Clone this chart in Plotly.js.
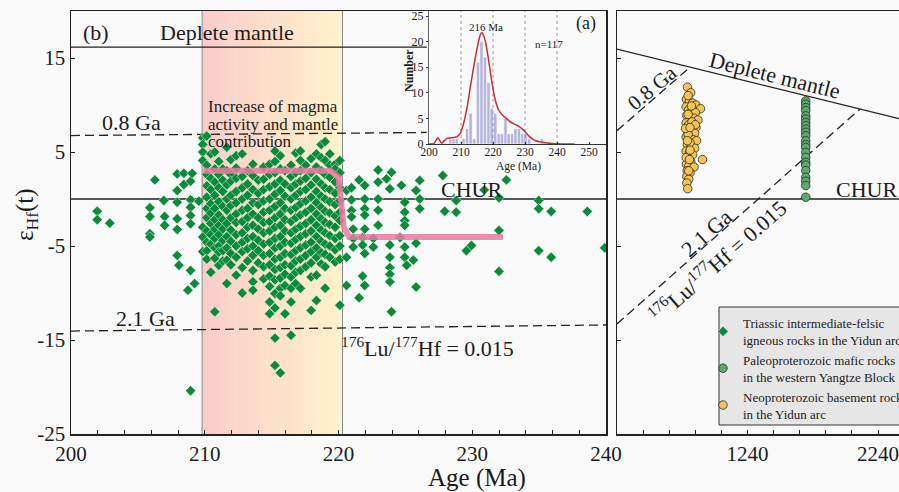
<!DOCTYPE html>
<html><head><meta charset="utf-8">
<script src="https://cdn.plot.ly/plotly-3.0.1.min.js"></script>
<style>html,body{margin:0;padding:0;background:#fafafa}</style>
</head><body><div id="chart" style="width:899px;height:492px"></div>
<script>
// ---------------- DATA ----------------
// Triassic zircon eHf(t) vs age, grouped by sample age column
const preBandAges = [201.96, 202.9, 205.9, 206.27, 206.94, 207.0, 207.94, 208.07, 208.44, 208.74, 208.94, 209.06, 209.24, 209.56, 209.85];
const preBandVals = [[-1.3,-2.2],[-2.57],[-0.93,-1.86,-3.7,-4.05],[2.03],[-0.16],[-1.86,-2.8],
  [2.67,0.9,-0.34,-2.1,-3.24,-6.0],[-7.05],[2.73,1.54],[-9.7],[1.89,-0.09,-0.87,-1.75,-2.64,-7.6,-20.4],
  [2.73],[-9.0],[-0.23],[6.5,5.8,5.0,4.1,-3.0,-4.05,-5.6]];
const bandAges = [210.15,210.45,210.75,211.05,211.35,211.65,211.95,212.35,212.8,213.2,213.6,214.0,214.4,214.85,215.25,215.65,216.0,216.45,216.8,217.15,217.55,217.95,218.35,218.7,219.0,219.35,219.75,220.1];
const bandVals = [
  [6.7,3.6,2.6,1.4,0.2,-1.0,-2.0,-3.4,-4.6,-5.5,-6.4],
  [4.8,2.2,1.0,-0.5,-1.5,-2.6,-3.8,-4.8,-7.8],
  [5.0,3.2,1.8,0.4,-1.0,-2.2,-3.2,-4.2,-5.2,-6.3,-12.0],
  [4.0,2.6,1.2,-0.3,-1.7,-2.8,-3.8,-5.0,-5.65,-7.05],
  [3.2,2.0,0.8,-0.8,-2.2,-3.2,-4.4,-5.5,-6.6],
  [5.5,3.0,1.5,0.0,-1.2,-2.6,-4.0,-5.2,-6.5,-9.0],
  [4.2,2.6,1.9,0.4,-0.7,-2.0,-3.3,-4.5,-5.8,-7.0],
  [4.6,3.3,2.2,0.8,-0.4,-1.6,-2.5,-3.8,-5.0,-6.2,-8.1],
  [4.8,2.4,1.2,0.0,-1.2,-2.4,-3.6,-4.6,-5.6,-7.3,-10.0],
  [3.0,1.6,0.4,-1.0,-2.0,-3.0,-4.2,-5.3,-6.6],
  [3.7,2.5,1.0,-0.4,-1.6,-2.8,-4.0,-5.0,-6.0,-7.6,-8.8,-9.7],
  [2.0,0.6,-0.6,-2.0,-3.2,-4.4,-5.5,-6.8],
  [3.4,2.1,1.0,-0.2,-1.4,-2.5,-3.6,-4.8,-6.0,-7.2,-8.5],
  [3.7,2.6,1.3,0.0,-1.2,-2.4,-3.4,-4.6,-5.8,-7.0,-8.2,-9.3,-10.95,-12.2],
  [5.1,4.0,2.8,1.6,0.5,-0.8,-2.0,-3.0,-4.2,-5.2,-6.4,-7.5,-8.6,-10.06,-11.6,-14.8,-17.7],
  [4.6,3.2,2.0,0.9,-0.4,-1.6,-2.8,-4.0,-5.0,-6.2,-7.3,-8.4,-9.5,-10.3,-18.5],
  [3.0,1.6,0.3,-1.0,-2.2,-3.4,-4.6,-5.8,-7.0,-8.0,-9.2,-12.2],
  [3.6,2.4,1.2,0.0,-1.2,-2.4,-3.6,-4.7,-5.9,-7.1,-8.3,-9.5,-10.95,-14.5],
  [4.9,2.8,1.6,0.4,-0.9,-2.0,-3.2,-4.3,-5.5,-6.6,-7.8,-9.0],
  [5.1,4.1,3.0,1.9,0.8,-0.5,-1.7,-2.9,-4.0,-5.2,-6.4,-7.6,-9.5],
  [3.6,2.2,1.0,-0.2,-1.4,-2.6,-3.7,-4.9,-6.0,-7.2],
  [4.3,2.8,1.5,0.2,-1.0,-2.2,-3.4,-4.6,-5.6,-6.8,-8.3,-11.85],
  [4.8,3.4,2.1,0.8,-0.4,-1.6,-2.8,-4.0,-5.2,-6.2,-8.1,-10.8],
  [5.8,4.4,3.0,1.6,0.3,-0.9,-2.1,-3.3,-4.5,-5.7,-6.9],
  [6.1,4.1,2.6,1.2,0.0,-1.3,-2.5,-3.6,-4.8,-5.9,-7.2,-9.5],
  [4.8,3.6,2.3,1.0,-0.3,-1.5,-2.7,-3.9,-5.0,-6.2],
  [3.7,3.2,1.8,0.6,-0.6,-1.8,-3.0,-4.2,-5.4,-6.7],
  [4.1,2.8,1.2,-0.2,-1.4,-2.3,-3.9,-5.0,-6.4,-11.3]];
const postBandAges = [220.6,220.97,221.1,221.54,221.8,221.96,222.6,222.96,223.59,223.84,223.96,224.6,224.7,224.95,225.1,225.6,225.8,226.07,227.8,227.94,228.8,229.56,229.94,230.9,232.0,232.55,234.97,235.9,238.6,239.9];
const postBandVals = [[0.9,-6.2,-9.2],[1.19,-0.09,-1.22,-1.9],[-3.2,-4.2,-5.1],[2.03,-10.5],[-4.1,-4.9,-8.2],
  [1.45,0.0,-1.04,-1.7,-3.2,-5.8,-9.2],[-4.2,-5.1],[3.09,1.8,0.0,-1.2,-2.8],[2.14],[1.09,-4.9,-6.2,-7.3,-8.0,-8.8],
  [2.84,-12.0],[-4.1],[1.45],[-0.34,-1.4,-2.3,-2.8,-5.1,-6.2],[-7.05],[-6.5],[0.9,-4.7,-9.36],[1.98,0.0,-1.04],
  [2.5],[-1.3],[-0.16,-1.4],[-5.5],[-4.94],[0.97],[0.12,-3.35,-7.7],[2.03],[-0.16,-1.04,-5.5],[-1.33,-6.2],[-1.33],[-5.2]];

// Mean eHf trend (pink)
const trendAges = [209.9, 219.4, 220.0, 220.4, 220.8, 232.3];
const trendEHf  = [3.0, 3.0, 2.3, -3.0, -4.05, -4.05];

// Reference evolution lines, left panel (age window 200-240 Ma)
const dmLeftAges = [200, 226.6];   const dmLeftEHf = [16.15, 16.15];
const ga08LeftAges = [200, 226.6]; const ga08LeftEHf = [6.75, 7.08];
const ga21LeftAges = [200, 240];   const ga21LeftEHf = [-14.05, -13.4];
const churLeftAges = [200, 240];   const churLeftEHf = [0, 0];

// Right panel (240-2400 Ma)
const dmRightAges = [240, 2400];   const dmRightEHf = [15.95, 8.55];
const ga08RightAges = [240, 800];  const ga08RightEHf = [7.26, 14.03];
const ga21RightAges = [240, 2100]; const ga21RightEHf = [-13.3, 9.56];
const churRightAges = [240, 2400]; const churRightEHf = [0, 0];

const neoPoints = [[780,11.9],[805,11.3],[772,10.6],[795,10.4],[820,10.2],[845,10.0],[880,9.6],[770,9.8],[790,9.5],[815,9.4],
  [840,9.2],[775,8.9],[800,8.7],[830,8.6],[860,8.4],[770,8.1],[790,7.9],[815,7.8],[845,7.6],[778,7.3],[805,7.1],[835,7.0],
  [770,6.6],[795,6.5],[825,6.3],[850,6.2],[780,5.8],[810,5.6],[835,5.4],[770,5.1],[795,4.9],[820,4.7],[780,4.4],[895,4.2],
  [805,4.0],[772,3.7],[790,3.5],[830,3.4],[778,3.0],[800,2.8],[775,2.4],[790,2.1],[775,1.7],[782,1.1],[810,9.9],[785,9.0],
  [800,6.0],[785,6.9],[815,8.2],[790,3.0],[770,4.4],[800,5.2],[840,7.9],[765,7.5],[785,11.0],[800,7.6],[780,6.2],[795,4.2]];
const paleoAges = [1686,1686,1686,1686,1686,1686,1686,1686,1686,1686,1686,1686,1686,1686,1686,1686,1686,1686,1686,1686,1686,1686,1686];
const paleoEHf  = [10.44,10.09,9.73,9.4,8.85,8.5,8.14,7.8,7.44,7.1,6.73,6.2,5.8,5.49,4.96,4.43,3.9,3.6,3.02,2.31,1.9,1.43,0.19];

// Inset (a): age histogram and density curve
const histAges   = [206.7,207.7,208.7,210.8,211.9,213.0,214.1,215.3,216.4,217.5,218.6,219.6,220.7,221.8,222.8,223.9,224.9,226.0,227.0,228.1,229.2,230.2,231.3,235.3];
const histCounts = [1,1,1,1,3,6,1,16,20,17,12,7,6,2,2,5,2,2,3,3,2,2,1,1];
const kdeAges = [200,201.5,202.8,203.9,205.5,207,208.6,209.7,210,211,212,213,214,215,216,216.5,217,217.6,218.6,219.7,220.7,221.8,223,224.5,225.5,227,228.2,229.2,230.3,231.3,232.3,233.5,235,237,240,245.5];
const kdeCounts = [0,0.05,1.2,0.2,1.05,1.2,1.4,2.0,2.4,4.5,7.5,11.5,15.2,18.6,21.3,21.8,21.3,20.1,16.5,11.9,8.6,6.6,5.6,4.8,4.3,3.8,3.4,2.9,2.2,1.5,1.0,0.6,0.4,0.2,0.05,0];
const insetGridAges = [210, 220, 230, 240];

// ---------------- BUILD ----------------
const SERIF = "Liberation Serif, Times New Roman, DejaVu Serif, serif";
const INK = '#1c1c1c';
function flatten(ages, vals){ const x=[],y=[]; ages.forEach((a,i)=>vals[i].forEach(v=>{x.push(a);y.push(v);})); return [x,y]; }
const [preX,preY] = flatten(preBandAges, preBandVals);
const [bandX,bandY] = flatten(bandAges, bandVals);
const [postX,postY] = flatten(postBandAges, postBandVals);
const triX = preX.concat(bandX, postX), triY = preY.concat(bandY, postY);

const gx=[], gy=[];
insetGridAges.forEach(a=>{gx.push(a,a,null); gy.push(0,26,null);});

const L=71, W=828, B=434, H=423;
const px = p => (p-L)/W, py = p => (B-p)/H;
const DASH = '9px,5px';

function line(x,y,xa,ya,dash){ return {x,y,xaxis:xa,yaxis:ya,mode:'lines',type:'scatter',showlegend:false,hoverinfo:'skip',
  line:{color:'#222',width:1.3,dash:dash||'solid'}}; }

const traces = [
  line(dmLeftAges, dmLeftEHf,'x','y'),
  line(ga08LeftAges, ga08LeftEHf,'x','y',DASH),
  line(churLeftAges, churLeftEHf,'x','y'),
  line(ga21LeftAges, ga21LeftEHf,'x','y',DASH),
  line(dmRightAges, dmRightEHf,'x2','y2'),
  line(ga08RightAges, ga08RightEHf,'x2','y2',DASH),
  line(ga21RightAges, ga21RightEHf,'x2','y2',DASH),
  line(churRightAges, churRightEHf,'x2','y2'),
  {x:triX, y:triY, xaxis:'x', yaxis:'y', type:'scatter', mode:'markers', name:'Triassic intermediate-felsic<br>igneous rocks in the Yidun arc',
   marker:{symbol:'diamond', size:8, color:'#0b8a3b', line:{color:'rgba(235,255,240,0.75)', width:0.7}}, legendrank:1},
  {x:trendAges, y:trendEHf, xaxis:'x', yaxis:'y', type:'scatter', mode:'lines', showlegend:false, hoverinfo:'skip',
   line:{color:'rgba(236,120,160,0.85)', width:6}},
  {x:paleoAges, y:paleoEHf, xaxis:'x2', yaxis:'y2', type:'scatter', mode:'markers', name:'Paleoproterozoic mafic rocks<br>in the western Yangtze Block',
   marker:{symbol:'circle', size:8.5, color:'#5ea96f', line:{color:'#2a2a2a', width:0.8}}, legendrank:2},
  {x:neoPoints.map(p=>p[0]), y:neoPoints.map(p=>p[1]), xaxis:'x2', yaxis:'y2', type:'scatter', mode:'markers', name:'Neoproterozoic basement rocks<br>in the Yidun arc',
   marker:{symbol:'circle', size:8.5, color:'#f6c455', line:{color:'#2a2a2a', width:0.8}}, legendrank:3},
  {x:histAges, y:histCounts, xaxis:'x3', yaxis:'y3', type:'bar', width:1.05, showlegend:false, hoverinfo:'skip',
   marker:{color:'#b5b5de', line:{color:'rgba(255,255,255,0.85)', width:0.7}}},
  {x:gx, y:gy, xaxis:'x3', yaxis:'y3', type:'scatter', mode:'lines', showlegend:false, hoverinfo:'skip',
   line:{color:'#9a9a9a', width:1, dash:'3px,3px'}},
  {x:kdeAges, y:kdeCounts, xaxis:'x3', yaxis:'y3', type:'scatter', mode:'lines', showlegend:false, hoverinfo:'skip',
   line:{color:'#cc2f2f', width:1.5, shape:'spline', smoothing:0.6}}
];

// gradient band 209.8-220.3 Ma
const shapes = [];
const b0=209.8, b1=220.3, N=48;
const c0=[251,203,203], c1=[253,223,200], c2=[255,243,204];
for(let i=0;i<N;i++){
  const t=(i+0.5)/N; let c;
  if(t<0.5){const u=t/0.5; c=c0.map((v,k)=>Math.round(v+(c1[k]-v)*u));}
  else {const u=(t-0.5)/0.5; c=c1.map((v,k)=>Math.round(v+(c2[k]-v)*u));}
  shapes.push({type:'rect', xref:'x', yref:'y domain', x0:b0+(b1-b0)*i/N, x1:b0+(b1-b0)*(i+1)/N+0.02, y0:0, y1:1,
    fillcolor:`rgb(${c[0]},${c[1]},${c[2]})`, line:{width:0}, layer:'below'});
}
shapes.push({type:'line', xref:'x', yref:'y domain', x0:b0, x1:b0, y0:0, y1:1, line:{color:'#8a8a8a', width:1}, layer:'below'});
shapes.push({type:'line', xref:'x', yref:'y domain', x0:b1, x1:b1, y0:0, y1:1, line:{color:'#8a8a8a', width:1}, layer:'below'});
// legend box
shapes.push({type:'rect', xref:'paper', yref:'paper', x0:px(719), x1:px(910), y0:py(425), y1:py(307),
  fillcolor:'#e6e6e6', line:{color:'#333', width:1}, layer:'below'});

function ann(text, x, y, size, extra){ return Object.assign({text, x:px(x), y:py(y), xref:'paper', yref:'paper', showarrow:false,
  xanchor:'center', yanchor:'middle', font:{family:SERIF, size, color:INK}}, extra||{}); }
const LUHF = '<sup>176</sup>Lu/<sup>177</sup>Hf = 0.015';
const annotations = [
  ann('(b)', 96, 33, 22),
  ann('Deplete mantle', 227, 33, 22),
  ann('0.8 Ga', 131, 122, 22),
  ann('Increase of magma', 206, 106, 17, {xanchor:'left'}),
  ann('activity and mantle', 206, 124, 17, {xanchor:'left'}),
  ann('contribution', 206, 141, 17, {xanchor:'left'}),
  ann('CHUR', 471, 190, 22),
  ann('2.1 Ga', 145, 318, 22),
  ann(LUHF, 427, 347, 22),
  ann('ε<sub>Hf</sub>(t)', 26, 215, 25, {textangle:-90}),
  ann('Age (Ma)', 477, 478, 25),
  ann('Deplete mantle', 775, 75, 22, {textangle:14}),
  ann('0.8 Ga', 652, 88, 21, {textangle:-40}),
  ann('2.1 Ga', 706, 233, 22, {textangle:-41.5}),
  ann(LUHF, 717, 261, 22, {textangle:-41.5}),
  ann('CHUR', 866, 190, 22),
  ann('216 Ma', 486, 27, 11),
  ann('n=117', 549, 44, 11),
  ann('(a)', 586, 23, 18),
  ann('<b>Number</b>', 409, 71, 12, {textangle:-90}),
  ann('Age (Ma)', 518, 166, 11.5)
];

const axBase = {showline:true, linecolor:'#222', linewidth:1.5, ticks:'inside', ticklen:4, tickwidth:1, tickcolor:'#222',
  showgrid:false, zeroline:false, tickfont:{family:SERIF, size:21, color:INK}, ticklabeloverflow:'allow'};
const yTicks = [-25,-15,-5,5,15];
const layout = {
  width:899, height:492, margin:{l:L, r:0, t:11, b:58, autoexpand:false},
  paper_bgcolor:'#fafafa', plot_bgcolor:'#fafafa',
  font:{family:SERIF, color:INK},
  xaxis: Object.assign({}, axBase, {domain:[0, px(606)], range:[200,240], anchor:'y', mirror:true, tickmode:'linear', tick0:200, dtick:10,
    minor:{tickmode:'linear', tick0:200, dtick:2, ticks:'inside', ticklen:4, tickcolor:'#222', showgrid:false}}),
  yaxis: Object.assign({}, axBase, {domain:[0,1], range:[-25,20], anchor:'x', mirror:true, tickmode:'array', tickvals:yTicks,
    ticktext:yTicks.map(String)}),
  xaxis2: Object.assign({}, axBase, {domain:[px(617),1], range:[240.5,2400], anchor:'y2', mirror:true, tickmode:'linear', tick0:1240, dtick:1000,
    minor:{tickmode:'linear', tick0:240, dtick:200, ticks:'inside', ticklen:4, tickcolor:'#222', showgrid:false}}),
  yaxis2: Object.assign({}, axBase, {domain:[0,1], range:[-25,20], anchor:'x2', mirror:false, tickmode:'array', tickvals:yTicks, showticklabels:false}),
  xaxis3: {domain:[px(429), px(606)], range:[200,255.3], anchor:'y3', showline:true, linecolor:'#333', linewidth:1, ticks:'inside', ticklen:2,
    tickcolor:'#333', tickmode:'array', tickvals:[200,210,220,230,240,250], showgrid:false, zeroline:false, ticklabelstandoff:-3,
    tickfont:{family:SERIF, size:11.5, color:INK}},
  yaxis3: {domain:[py(144), 1], range:[0,26], anchor:'x3', showline:true, linecolor:'#666', linewidth:1, ticks:'outside', ticklen:2,
    tickcolor:'#333', tickmode:'array', tickvals:[0,5,10,15,20,25], showgrid:false, zeroline:false,
    tickfont:{family:SERIF, size:12, color:INK}},
  showlegend:true,
  legend:{x:px(703), y:py(308), xanchor:'left', yanchor:'top', bgcolor:'rgba(0,0,0,0)', borderwidth:0,
    font:{family:SERIF, size:13, color:INK}, traceorder:'normal', tracegroupgap:4},
  shapes, annotations
};

Plotly.newPlot('chart', traces, layout, {staticPlot:true, displayModeBar:false});
</script></body></html>
